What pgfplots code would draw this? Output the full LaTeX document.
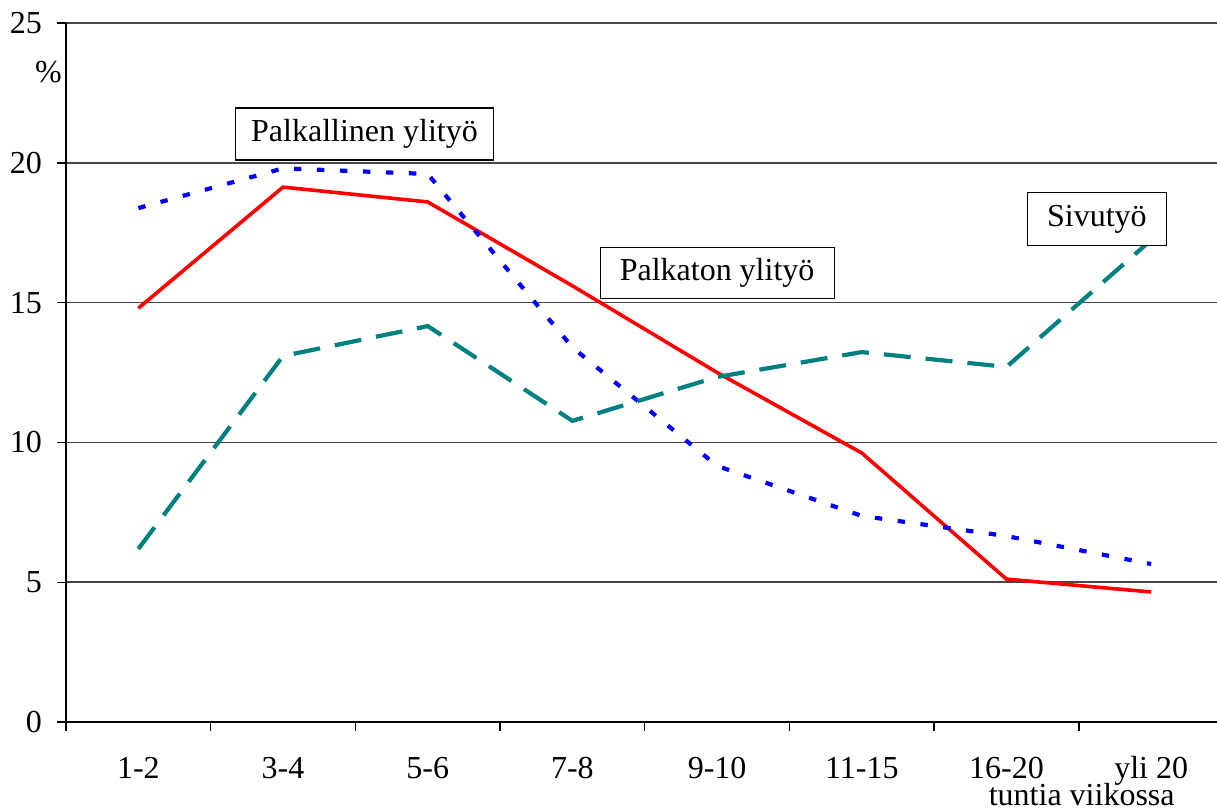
\documentclass[border=0pt]{standalone}
\usepackage{fontspec}
\setmainfont{Liberation Serif}
\usepackage{pgfplots}
\pgfplotsset{compat=1.18}
\definecolor{tealc}{RGB}{0,128,128}
\definecolor{gridc}{RGB}{70,70,70}
\begin{document}
\fontsize{16}{19}\selectfont
\begin{tikzpicture}
\begin{axis}[
  scale only axis, width=575.5pt, height=349.5pt,
  xmin=-0.5, xmax=7.455, ymin=0, ymax=25,
  axis x line=bottom, axis y line=left,
  axis line style={-, line width=0.9pt, black},
  clip=false,
  /pgf/number format/assume math mode=true,
  ticklabel style={font=\fontsize{16}{19}\selectfont},
  ytick={0,5,10,15,20,25},
  ymajorgrids, grid style={line width=0.85pt, color=gridc},
  tick align=outside, major tick length=4.5pt,
  tick style={line width=0.7pt, black},
  xtick={-0.5,0.5,1.5,2.5,3.5,4.5,5.5,6.5},
  xticklabels={{},{},{},{},{},{},{},{}},
  extra x ticks={0,1,2,3,4,5,6,7},
  extra x tick labels={1-2,3-4,5-6,7-8,9-10,11-15,16-20,yli 20},
  extra x tick style={major tick length=0pt, grid=none,
     xticklabel style={anchor=base, yshift=-28pt}},
  yticklabel style={anchor=east, xshift=-2pt},
]
\addplot[red, line width=1.8pt] coordinates {
 (0,14.8) (1,19.13) (2,18.6) (3,15.6) (4,12.5) (5,9.62) (6,5.11) (7,4.65)};
\addplot[blue, line width=2.1pt, dash pattern=on 3.7pt off 7.8pt] coordinates {
 (0,18.38) (1,19.8) (2,19.6) (3,13.4) (4,9.16) (5,7.37) (6,6.65) (7,5.65)};
\addplot[tealc, line width=2.1pt, dash pattern=on 13.5pt off 7.5pt] coordinates {
 (0,6.19) (1,13.09) (2,14.16) (3,10.77) (4,12.34) (5,13.23) (6,12.7) (7,17.24)};
\node[draw, fill=white, line width=0.6pt, minimum width=129pt, minimum height=26pt, inner sep=0pt]
  at (axis cs:1.563,21.03) {Palkallinen ylityö};
\node[draw, fill=white, line width=0.6pt, minimum width=117pt, minimum height=25.5pt, inner sep=0pt]
  at (axis cs:4.0,16.06) {Palkaton ylityö};
\node[draw, fill=white, line width=0.6pt, minimum width=69.5pt, minimum height=26.5pt, inner sep=0pt]
  at (axis cs:6.625,17.99) {Sivutyö};
\node at (axis cs:-0.622,23.25) {\%};
\node[anchor=base] at ([yshift=-41.5pt]axis cs:6.52,0) {tuntia viikossa};
\end{axis}
\pgfresetboundingbox
\path[use as bounding box] ([xshift=-33pt,yshift=-44pt]current axis.south west) rectangle ([yshift=11.5pt]current axis.north east);
\end{tikzpicture}
\end{document}
